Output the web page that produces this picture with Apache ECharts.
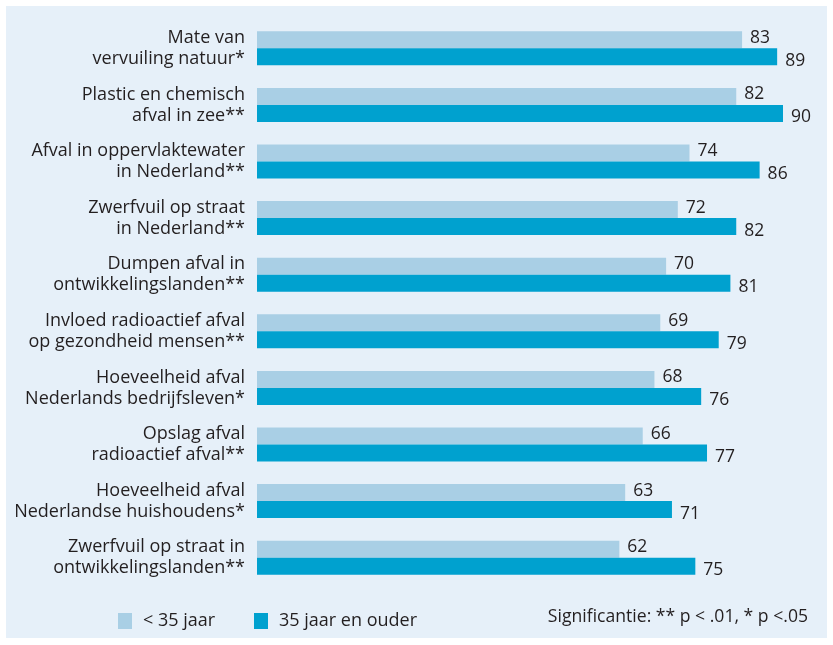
<!DOCTYPE html>
<html><head><meta charset="utf-8">
<script src="https://cdn.jsdelivr.net/npm/echarts@6/dist/echarts.min.js"></script>
<style>html,body{margin:0;padding:0;background:#fff}#c{width:833px;height:645px}</style>
</head><body><div id="c"></div>
<script>
const categories = [
  'Mate van\nvervuiling natuur*',
  'Plastic en chemisch\nafval in zee**',
  'Afval in oppervlaktewater\nin Nederland**',
  'Zwerfvuil op straat\nin Nederland**',
  'Dumpen afval in\nontwikkelingslanden**',
  'Invloed radioactief afval\nop gezondheid mensen**',
  'Hoeveelheid afval\nNederlands bedrijfsleven*',
  'Opslag afval\nradioactief afval**',
  'Hoeveelheid afval\nNederlandse huishoudens*',
  'Zwerfvuil op straat in\nontwikkelingslanden**'
];
const seriesNames = ['< 35 jaar', '35 jaar en ouder'];
const under35 = [83, 82, 74, 72, 70, 69, 68, 66, 63, 62];
const over35 = [89, 90, 86, 82, 81, 79, 76, 77, 71, 75];
const note = 'Significantie: ** p < .01, * p <.05';

const FONT = 'Open Sans';
const chart = echarts.init(document.getElementById('c'));
chart.setOption({
  animation: false,
  backgroundColor: '#fff',
  textStyle: {fontFamily: FONT, color: '#231f20'},
  graphic: [
    {type: 'rect', shape: {x: 6, y: 6, width: 821, height: 632}, style: {fill: '#e6f0f9'}, z: -10},
    {type: 'text', right: 25, top: 608, style: {text: note, font: '17.6px "Open Sans"', fill: '#231f20'}}
  ],
  grid: {left: 257, right: 50, top: 20, bottom: 59, containLabel: false},
  xAxis: {type: 'value', min: 0, max: 90, show: false},
  yAxis: {
    type: 'category', data: categories, inverse: true,
    axisLine: {show: false}, axisTick: {show: false},
    axisLabel: {fontFamily: FONT, fontSize: 18, color: '#231f20', align: 'right', margin: 12, lineHeight: 21}
  },
  legend: [
    {data: [seriesNames[0]], left: 118, top: 612, padding: 0, itemWidth: 14, itemHeight: 16, icon: 'rect',
     textStyle: {fontFamily: FONT, fontSize: 18, color: '#231f20', padding: [0, 0, 0, 6]}},
    {data: [seriesNames[1]], left: 254, top: 612, padding: 0, itemWidth: 14, itemHeight: 16, icon: 'rect',
     textStyle: {fontFamily: FONT, fontSize: 18, color: '#231f20', padding: [0, 0, 0, 6]}}
  ],
  series: [
    {name: seriesNames[0], type: 'bar', data: under35, barWidth: 17, barGap: '0%',
     itemStyle: {color: '#a9cfe5'},
     label: {show: true, position: 'right', distance: 8, offset: [0, -2], fontFamily: FONT, fontSize: 17.5, color: '#231f20'}},
    {name: seriesNames[1], type: 'bar', data: over35, barWidth: 17,
     itemStyle: {color: '#00a1cf'},
     label: {show: true, position: 'right', distance: 8, offset: [0, 4], fontFamily: FONT, fontSize: 17.5, color: '#231f20'}}
  ]
});
</script></body></html>
